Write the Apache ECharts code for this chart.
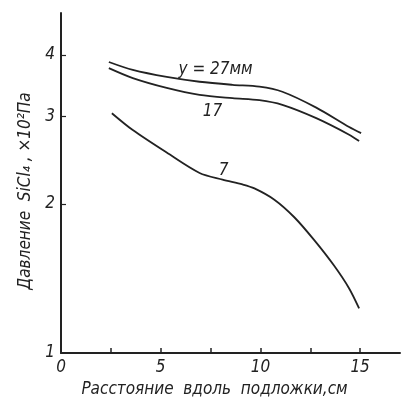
<!DOCTYPE html>
<html>
<head>
<meta charset="utf-8">
<script src="https://cdn.jsdelivr.net/npm/echarts@6/dist/echarts.min.js"></script>
<style>
html,body{margin:0;padding:0;background:#fff;}
#c{width:403px;height:405px;}
</style>
</head>
<body>
<div id="c"></div>
<script>
// Data (x: distance along substrate, cm; y: SiCl4 pressure, x10^2 Pa)
var curve27 = [[2.4,3.87],[3.6,3.73],[5.3,3.61],[6.95,3.53],[8.6,3.48],[9.95,3.45],[11.1,3.37],[12.8,3.13],[14.45,2.86],[15.05,2.78]];
var curve17 = [[2.4,3.76],[3.6,3.59],[5.3,3.43],[6.95,3.32],[8.6,3.27],[9.95,3.24],[11.1,3.17],[12.8,2.98],[14.45,2.76],[14.95,2.68]];
var curve7  = [[2.55,3.05],[3.6,2.82],[5.3,2.54],[6.95,2.31],[8.1,2.24],[9.1,2.19],[9.7,2.15],[10.7,2.04],[11.7,1.88],[12.7,1.69],[13.7,1.50],[14.45,1.35],[14.95,1.23]];
var xTickValues = [2.5,5,7.5,10,12.5,15];
var xLabelValues = [0,5,10,15];
var yTickValues = [2,3,4];
var yLabelValues = [1,2,3,4];
var curveLabels = [
  {text:'у = 27мм', coord:[7.75,3.73]},
  {text:'17', coord:[7.6,3.07]},
  {text:'7', coord:[8.15,2.34]}
];

var FONT = 'DejaVu Sans Condensed';
var INK = '#222';

function lineSeries(data, lbl){
  return {
    type:'line', data:data, smooth:0.3, symbol:'none',
    lineStyle:{color:INK, width:1.8},
    markPoint:{
      symbol:'circle', symbolSize:0, silent:true,
      label:{show:true, position:'inside', formatter:lbl.text, color:INK,
             fontFamily:FONT, fontStyle:'italic', fontSize:17},
      data:[{coord:lbl.coord}]
    }
  };
}

var chart = echarts.init(document.getElementById('c'), null, {renderer:'canvas'});
chart.setOption({
  animation:false,
  backgroundColor:'#fff',
  grid:{left:61, right:3, top:13, bottom:52},
  xAxis:{
    type:'value', min:0, max:17,
    axisLine:{show:true, lineStyle:{color:INK, width:2}},
    axisTick:{show:true, inside:true, length:5, customValues:xTickValues, lineStyle:{color:INK, width:1.5}},
    axisLabel:{customValues:xLabelValues, color:INK, fontFamily:FONT, fontStyle:'italic', fontSize:17, margin:6},
    splitLine:{show:false},
    name:'Расстояние  вдоль  подложки,см', nameLocation:'middle', nameGap:25,
    nameTextStyle:{color:INK, fontFamily:FONT, fontStyle:'italic', fontSize:17, padding:[0,32,0,0]}
  },
  yAxis:{
    type:'log', logBase:10, min:1, max:4.86,
    axisLine:{show:true, lineStyle:{color:INK, width:2}},
    axisTick:{show:true, inside:true, length:5, customValues:yTickValues, lineStyle:{color:INK, width:1.2}},
    axisLabel:{customValues:yLabelValues, color:INK, fontFamily:FONT, fontStyle:'italic', fontSize:17, margin:6},
    splitLine:{show:false},
    name:'Давление  SiCl₄ , ×10²Па', nameLocation:'middle', nameGap:22,
    nameTextStyle:{color:INK, fontFamily:FONT, fontStyle:'italic', fontSize:17, padding:[0,16,0,0]}
  },
  series:[
    lineSeries(curve27, curveLabels[0]),
    lineSeries(curve17, curveLabels[1]),
    lineSeries(curve7, curveLabels[2])
  ]
});
</script>
</body>
</html>
